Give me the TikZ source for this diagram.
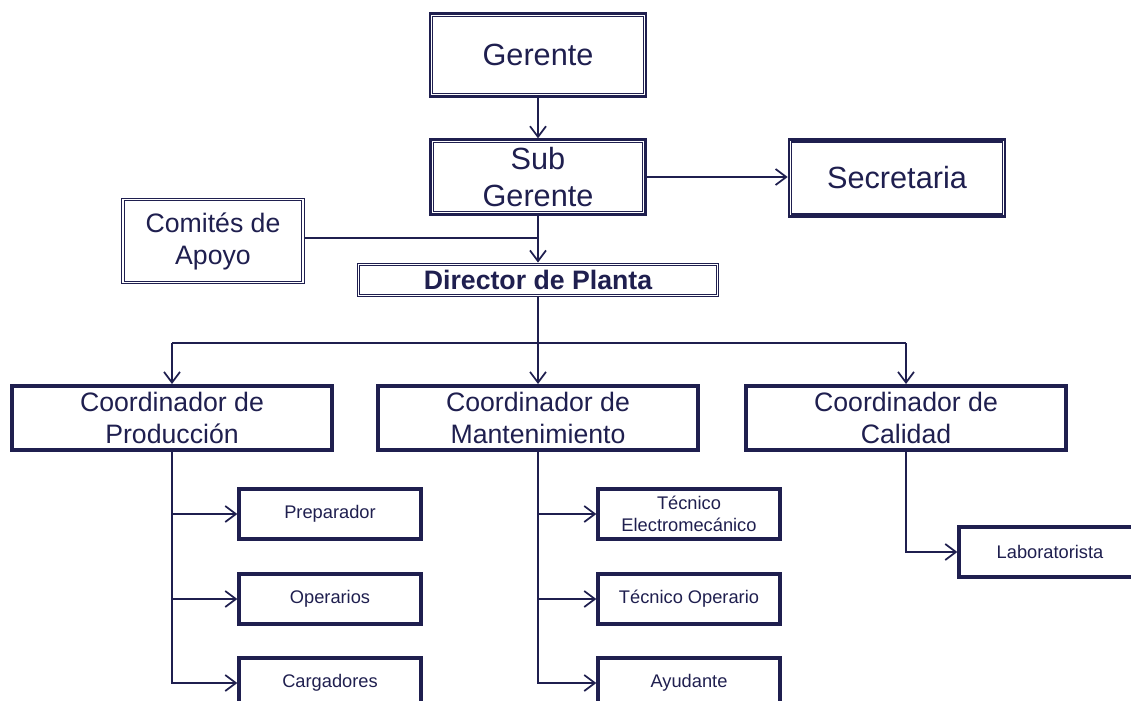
\documentclass[tikz,border=0pt]{standalone}
\usepackage{fontspec}
\setmainfont{Liberation Sans}
\usetikzlibrary{arrows.meta}
\definecolor{navy}{HTML}{1F1F4F}

\tikzset{
  dbox/.style={draw=navy, text=navy, fill=white, line width=2pt, align=center, inner sep=0pt},
  dboxthin/.style={draw=navy, text=navy, fill=white, line width=1.2pt, align=center, inner sep=0pt},
  innerline/.style={draw=navy, line width=#1},
  coordbox/.style={draw=navy, text=navy, line width=3pt, align=center, inner sep=0pt,
    minimum width=240pt, minimum height=48pt, font=\fontsize{20}{24}\selectfont},
  smallbox/.style={draw=navy, text=navy, line width=3pt, align=center, inner sep=0pt,
    minimum width=136pt, minimum height=38pt, font=\fontsize{13.7}{16}\selectfont},
  link/.style={draw=navy, line width=1.3pt},
  arr/.style={link, -{Straight Barb[length=8pt,width=12pt,line width=1.3pt]}}
}

\begin{document}
\begin{tikzpicture}[x=0.75pt,y=-0.75pt]
		\useasboundingbox (0,0) rectangle (1131,700);

		% Top of the chart
		\node[dbox, minimum width=162pt, minimum height=62pt, font=\fontsize{23}{28}\selectfont] (ger) at (538,55) {Gerente};
		\node[dbox, minimum width=161pt, minimum height=56pt, font=\fontsize{23}{28}\selectfont] (sub) at (538,177) {Sub\\Gerente};
		\node[dbox, minimum width=162pt, minimum height=58pt, font=\fontsize{23}{28}\selectfont] (sec) at (897,178) {Secretaria};
		\node[dboxthin, minimum width=137pt, minimum height=64pt, font=\fontsize{20}{24}\selectfont] (com) at (213,241) {Comités de\\Apoyo};
		\node[dboxthin, minimum width=271pt, minimum height=25pt, font=\bfseries\fontsize{20}{24}\selectfont] (dir) at (538,280) {Director de Planta};

		% inner frame of the double borders
		\foreach \n in {ger,sub,sec}
			\draw[innerline=1pt] ([shift={(3pt,-3pt)}]\n.north west) rectangle ([shift={(-3pt,3pt)}]\n.south east);
		\foreach \n in {com,dir}
			\draw[innerline=0.8pt] ([shift={(2.4pt,-2.4pt)}]\n.north west) rectangle ([shift={(-2.4pt,2.4pt)}]\n.south east);

		\draw[arr] (ger) -- (sub);
		\draw[arr] (sub) -- (sub -| sec.west);
		\draw[arr] (sub) -- (dir);
		\draw[link] (com.east |- 0,238) -- (538,238);

		% Coordinators
		\node[coordbox] (prod) at (172,418) {Coordinador de\\Producción};
		\node[coordbox] (mant) at (538,418) {Coordinador de\\Mantenimiento};
		\node[coordbox] (cal) at (906,418) {Coordinador de\\Calidad};

		\coordinate (bus) at (538,343);
		\draw[link] (dir.south) -- (bus);
		\draw[link] (bus -| prod) -- (bus -| cal);
		\foreach \c in {prod,mant,cal}
			\draw[arr] (bus -| \c.north) -- (\c.north);

		% Staff boxes
		\node[smallbox] (prep) at (330,514) {Preparador};
		\node[smallbox] (oper) at (330,599) {Operarios};
		\node[smallbox] (carg) at (330,683) {Cargadores};
		\node[smallbox] (elec) at (689,514) {Técnico\\Electromecánico};
		\node[smallbox] (top) at (689,599) {Técnico Operario};
		\node[smallbox] (ayu) at (689,683) {Ayudante};
		\node[smallbox] (lab) at (1050,552) {Laboratorista};

		\draw[arr] (prod.south) |- (carg.west);
		\draw[arr] (mant.south) |- (ayu.west);
		\draw[arr] (cal.south) |- (lab.west);
		\foreach \p/\b in {prod/prep,prod/oper,mant/elec,mant/top}
			\draw[arr] (\p.south |- \b.west) -- (\b.west);

	\end{tikzpicture}
\end{document}
